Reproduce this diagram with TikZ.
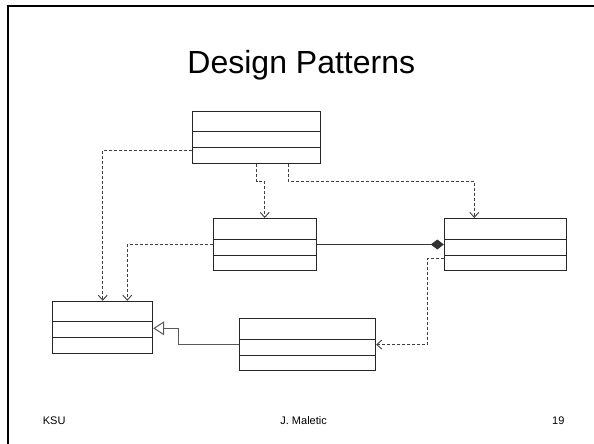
\documentclass[tikz,border=0pt]{standalone}
\usepackage{fontspec}
\setmainfont{Liberation Sans}
\usetikzlibrary{arrows.meta}
\begin{document}
\begin{tikzpicture}[x=1pt,y=-1pt,
  cls/.style={draw=black!85, line width=1pt, minimum height=52pt, inner sep=0pt, fill=white},
  dep/.style={draw=black!75, line width=0.9pt, dash pattern=on 3pt off 2pt, -{Straight Barb[length=5pt,width=9pt]}},
  comp/.style={draw=black!80, line width=0.9pt, -{Diamond[length=13pt,width=10pt]}},
  gen/.style={draw=black!65, line width=1pt, -{Triangle[open,length=11pt,width=14pt,fill=white]}},
  txt/.style={inner sep=0pt, text=black}]
\useasboundingbox (0,0) rectangle (594,444);
\fill[white] (0,0) rectangle (594,444);
% slide border
\draw[line width=2.2pt] (8,444) -- (8,6) -- (594,6);
% title and footer
\node[txt, anchor=base, font=\fontsize{32}{36}\selectfont] (title) at (301.3,73.3) {Design Patterns};
\node[txt, anchor=base west, font=\fontsize{11}{13}\selectfont] (ksu) at (42.7,424) {KSU};
\node[txt, anchor=base, font=\fontsize{11}{13}\selectfont] (auth) at (303.6,424) {J. Maletic};
\node[txt, anchor=base east, font=\fontsize{11}{13}\selectfont] (pg) at (564.6,424) {19};
% class boxes
\node[cls, minimum width=128pt] (top) at (256.3,137.3) {};
\node[cls, minimum width=102.7pt] (mid) at (264.7,244.5) {};
\node[cls, minimum width=122.4pt] (right) at (505.5,244.5) {};
\node[cls, minimum width=135.7pt] (bot) at (307.8,344.6) {};
\node[cls, minimum width=100pt] (left) at (102.7,327.3) {};
\foreach \n in {top,mid,right,bot,left}{
  \draw[black!85, line width=1pt] ([yshift=-21pt]\n.north west) -- ([yshift=-21pt]\n.north east);
  \draw[black!85, line width=1pt] ([yshift=-37pt]\n.north west) -- ([yshift=-37pt]\n.north east);
}
% connectors
\draw[dep] ([yshift=-13.2pt]top.west) -| (left.north);
\draw[dep] (mid.west) -| ([xshift=24.6pt]left.north);
\draw[dep] ([xshift=0.4pt]top.south) -- ++(0,17.4) -| (mid.north);
\draw[dep] ([xshift=31.7pt]top.south) -- ++(0,17.4) -| ([xshift=-31.2pt]right.north);
\draw[comp] (mid.east) -- (right.west);
\draw[dep] ([yshift=-13.5pt]right.west) -- ++(-16.3,0) |- (bot.east);
\draw[gen] (bot.west) -- ++(-60.7,0) |- ([yshift=-1pt]left.east);
\end{tikzpicture}
\end{document}
